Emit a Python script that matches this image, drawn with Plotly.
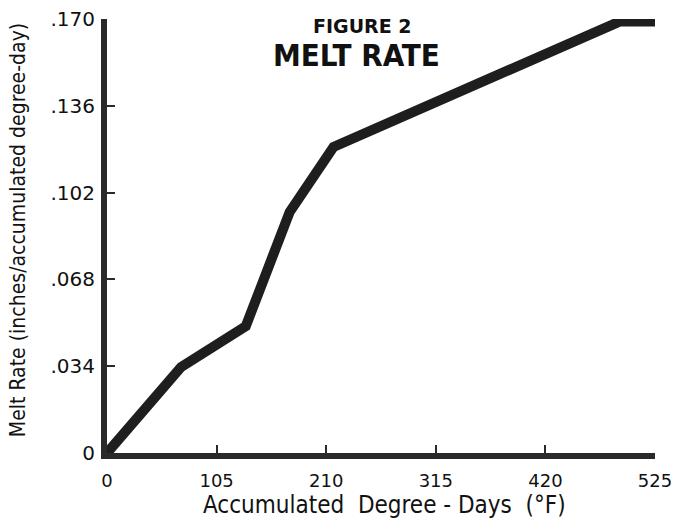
import plotly.graph_objects as go

# Data
degree_days = [0, 71, 133, 156, 175, 217, 491, 525]
melt_rate = [0.0, 0.0337, 0.0497, 0.0736, 0.0944, 0.1199, 0.1690, 0.1690]

x_tickvals = [0, 105, 210, 315, 420, 525]
x_ticktext = ["0", "105", "210", "315", "420", "525"]
y_tickvals = [0, 0.034, 0.068, 0.102, 0.136, 0.170]
y_ticktext = ["0", ".034", ".068", ".102", ".136", ".170"]

ink = "#1e1e1e"
font_family = "DejaVu Sans, Liberation Sans, sans-serif"
cond_family = "DejaVu Sans Condensed, DejaVu Sans, sans-serif"

fig = go.Figure()
fig.add_trace(go.Scatter(
    x=degree_days, y=melt_rate, mode="lines",
    line=dict(color=ink, width=10),
    cliponaxis=False, hoverinfo="skip", showlegend=False,
))

fig.update_layout(
    width=676, height=532,
    margin=dict(l=107, r=21, t=19, b=79, autoexpand=False),
    paper_bgcolor="white", plot_bgcolor="white",
    font=dict(family=font_family, color="#111111", size=18),
    xaxis=dict(
        range=[0, 525], tickvals=x_tickvals, ticktext=x_ticktext,
        showline=True, linewidth=6, linecolor="#2a2a2a",
        ticks="inside", ticklen=8, tickwidth=2, tickcolor="#2a2a2a",
        showgrid=False, zeroline=False, ticklabelstandoff=6,
        ticklabeloverflow="allow", automargin=False,
        tickfont=dict(size=18),
    ),
    yaxis=dict(
        range=[0, 0.170], tickvals=y_tickvals, ticktext=y_ticktext,
        showline=True, linewidth=6, linecolor="#2a2a2a",
        ticks="inside", ticklen=8, tickwidth=2, tickcolor="#2a2a2a",
        showgrid=False, zeroline=False, ticklabelstandoff=2,
        ticklabeloverflow="allow", automargin=False,
        tickfont=dict(size=20),
    ),
    annotations=[
        dict(text="<b>FIGURE 2</b>", x=0.466, y=0.984, xref="paper", yref="paper",
             xanchor="center", yanchor="middle", showarrow=False,
             font=dict(size=19, family=font_family, color="#111111")),
        dict(text="<b>MELT RATE</b>", x=0.456, y=0.917, xref="paper", yref="paper",
             xanchor="center", yanchor="middle", showarrow=False,
             font=dict(size=31, family=cond_family, color="#111111")),
        dict(text="Melt Rate (inches/accumulated degree-day)", textangle=-90,
             x=-0.162, y=0.514, xref="paper", yref="paper",
             xanchor="center", yanchor="middle", showarrow=False,
             font=dict(size=21, family=cond_family, color="#111111")),
        dict(text="Accumulated  Degree - Days  (°F)",
             x=0.507, y=-0.12, xref="paper", yref="paper",
             xanchor="center", yanchor="middle", showarrow=False,
             font=dict(size=24, family=cond_family, color="#111111")),
    ],
)

fig.write_html(
    "out.html",
    config={"displayModeBar": False},
    post_script="document.body.style.margin='0';document.body.style.overflow='hidden';",
)
